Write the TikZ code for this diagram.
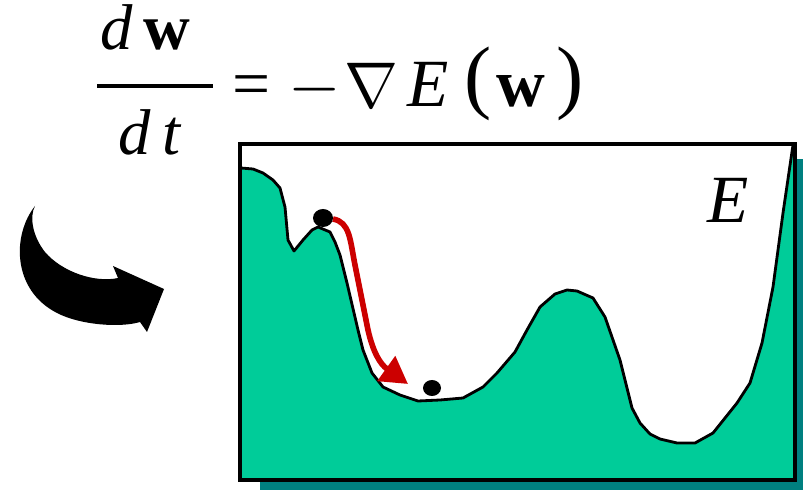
\documentclass[tikz,border=0pt]{standalone}
\usepackage{fix-cm}
\usepackage{fontspec}
\setmainfont{Liberation Serif}
\usetikzlibrary{arrows.meta,positioning,calc}
\definecolor{landgreen}{RGB}{0,204,153}
\definecolor{shadowteal}{RGB}{0,128,128}
\definecolor{pathred}{RGB}{204,0,0}

\begin{document}
\begin{tikzpicture}[x=0.025cm,y=-0.025cm,
    bigtxt/.style={font=\fontsize{48}{50}\selectfont,inner sep=0pt,anchor=base},
    fractxt/.style={font=\fontsize{46}{48}\selectfont,inner sep=0pt,anchor=base},
    ball/.style={fill=black,draw=none}]
  \useasboundingbox (0,0) rectangle (803,491);
  % gradient flow equation
  \node[fractxt] (num) at (145,50) {\textit{d}\,\textbf{w}};
  \node[fractxt] (den) at (150,155) {\textit{d}\,\textit{t}};
  \coordinate (barL) at (97,86);
  \coordinate (barR) at (213,86);
  \draw[line width=2.4pt] (barL) -- (barR);
  \node[bigtxt] (eq) at (252,107) {=};
  \node[bigtxt] (minus) at (315,107) {$-$};
  \node[bigtxt,font=\fontsize{46}{48}\selectfont] (nabla) at (371,108) {$\nabla$};
  \node[bigtxt] (E) at (428,107) {\textit{E}};
  \node[bigtxt,font=\fontsize{58}{60}\selectfont] (lpar) at (478,104) {(};
  \node[bigtxt] (w) at (521,107) {\textbf{w}};
  \node[bigtxt,font=\fontsize{58}{60}\selectfont] (rpar) at (570,104) {)};
  % curved arrow
  \fill (35,206) .. controls (12,235) and (12,290) .. (57,313)
    .. controls (80,325) and (120,328) .. (140,322) -- (147,332) -- (164,289)
    -- (113,266) -- (118,278) .. controls (95,283) and (62,272) .. (45,252)
    .. controls (33,237) and (29,217) .. (35,206) -- cycle;
  % error surface box
  \fill[shadowteal] (260,159) rectangle (803,490);
  \fill[white] (240,144) rectangle (795,480);
  \fill[landgreen] (240,480) -- (241,168) -- (253,169) -- (263,173) -- (273,180)
    -- (280,188) -- (285,207) -- (288,240) -- (294,251) -- (303,240) -- (312,230)
    -- (318,227) -- (330,232) -- (335,242) -- (340,255) -- (347,283) -- (358,330)
    -- (363,350) -- (372,373) -- (383,387) -- (400,395) -- (418,401) -- (440,400)
    -- (463,398) -- (483,387) -- (497,373) -- (515,352) -- (527,330) -- (540,307)
    -- (555,294) -- (567,290) -- (577,291) -- (593,298) -- (605,317) -- (620,360)
    -- (632,408) -- (640,423) -- (650,434) -- (660,439) -- (677,443) -- (695,443)
    -- (713,433) -- (737,403) -- (750,383) -- (762,343) -- (773,287) -- (783,213)
    -- (793,145) -- (795,480) -- cycle;
  \draw[line width=2pt,line join=round] (241,168) -- (253,169) -- (263,173) -- (273,180)
    -- (280,188) -- (285,207) -- (288,240) -- (294,251) -- (303,240) -- (312,230)
    -- (318,227) -- (330,232) -- (335,242) -- (340,255) -- (347,283) -- (358,330)
    -- (363,350) -- (372,373) -- (383,387) -- (400,395) -- (418,401) -- (440,400)
    -- (463,398) -- (483,387) -- (497,373) -- (515,352) -- (527,330) -- (540,307)
    -- (555,294) -- (567,290) -- (577,291) -- (593,298) -- (605,317) -- (620,360)
    -- (632,408) -- (640,423) -- (650,434) -- (660,439) -- (677,443) -- (695,443)
    -- (713,433) -- (737,403) -- (750,383) -- (762,343) -- (773,287) -- (783,213)
    -- (793,145);
  \draw[line width=2.2pt] (240,144) rectangle (795,480);
  \node[bigtxt] (Elabel) at (728,223) {\textit{E}};
  % descent path
  \draw[white,line width=9pt] (333,219) .. controls (350,222) and (350,240) .. (355,265)
    -- (368,330) .. controls (372,350) and (378,362) .. (392,372);
  \draw[pathred,line width=4pt,-{Triangle[length=19pt,width=21pt]}]
    (333,219) .. controls (350,222) and (350,240) .. (355,265)
    -- (368,330) .. controls (373,352) and (380,364) .. (408,384);
  \fill[ball] (323,218) ellipse (10 and 9);
  \fill[ball] (432,388) ellipse (9 and 8);
\end{tikzpicture}
\end{document}
